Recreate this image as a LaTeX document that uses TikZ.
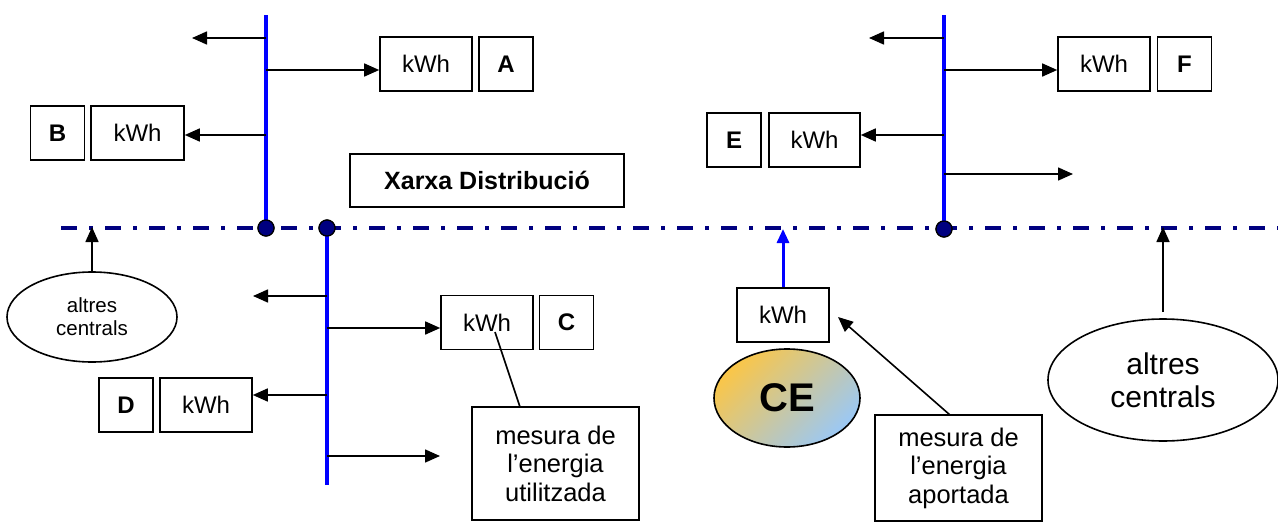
\documentclass[tikz,border=0pt]{standalone}
\usepackage{fontspec}
\setmainfont{Liberation Sans}
\usetikzlibrary{arrows.meta,shapes.geometric}
\definecolor{navyline}{RGB}{0,0,128}
\definecolor{busblue}{RGB}{0,0,255}
\definecolor{ceorange}{RGB}{250,198,72}
\definecolor{ceblue}{RGB}{155,200,245}
\begin{document}
\begin{tikzpicture}[x=1pt,y=-1pt,
  box/.style={draw=black, line width=1.6pt, minimum width=#1, minimum height=54pt,
    inner sep=0pt, font=\fontsize{24}{27}\selectfont},
  box/.default=92pt,
  letterbox/.style={draw=black, line width=1.6pt, minimum width=54pt, minimum height=54pt,
    inner sep=0pt, font=\fontsize{24}{27}\selectfont\bfseries},
  notebox/.style={draw=black, line width=1.6pt, minimum width=167pt, inner sep=0pt,
    align=center, font=\fontsize{25.5}{28.5}\selectfont},
  oval/.style={draw=black, line width=1.6pt, ellipse, inner sep=0pt, align=center},
  arr/.style={-{Triangle[length=15pt,width=13pt]}, line width=1.6pt, black},
  bus/.style={busblue, line width=3.5pt},
  grid/.style={navyline, line width=4.5pt, dash pattern=on 16pt off 12pt on 4pt off 12pt},
  junction/.style={circle, fill=navyline, draw=black, line width=1.2pt, minimum size=16pt, inner sep=0pt}
]
\useasboundingbox (0,0) rectangle (1278,522);

% main distribution line
\coordinate (gl) at (61,228);
\coordinate (gr) at (1280,228);
\draw[grid] (gl) -- (gr);

% buses
\coordinate (b1t) at (266,15);
\coordinate (b2b) at (327,485);
\coordinate (b3t) at (944,15);
\node[junction] (j1) at (266,228) {};
\node[junction] (j2) at (327,228) {};
\node[junction] (j3) at (944,229) {};
\draw[bus] (b1t) -- (j1.center);
\draw[bus] (j2.center) -- (b2b);
\draw[bus] (b3t) -- (j3.center);
\node[junction] at (j1) {};
\node[junction] at (j2) {};
\node[junction] at (j3) {};

% boxes
\node[box] (kwhA) at (426,64) {kWh};
\node[letterbox] (boxA) at (506,64) {A};
\node[letterbox] (boxB) at (57.5,133) {B};
\node[box=93pt] (kwhB) at (137.5,133) {kWh};
\node[draw=black, line width=1.6pt, minimum width=274pt, minimum height=53pt, inner sep=0pt,
  font=\fontsize{25}{28}\selectfont\bfseries] (xarxa) at (487,180.5) {Xarxa Distribució};
\node[box] (kwhC) at (487,322.5) {kWh};
\node[letterbox] (boxC) at (566.5,322.5) {C};
\node[letterbox] (boxD) at (126,405) {D};
\node[box] (kwhD) at (206,405) {kWh};
\node[notebox, minimum height=113pt] (mesU) at (555.5,463.5) {mesura de\\l’energia\\utilitzada};
\node[box] (kwhF) at (1104,64) {kWh};
\node[letterbox] (boxF) at (1184.5,64) {F};
\node[letterbox] (boxE) at (734,140) {E};
\node[box=91pt] (kwhE) at (814.5,140) {kWh};
\node[box] (kwhCE) at (783,315) {kWh};
\node[notebox, minimum height=106pt] (mesA) at (958.5,468) {mesura de\\l’energia\\aportada};

% ellipses
\node[oval, minimum width=170pt, minimum height=90pt, font=\fontsize{20.5}{23}\selectfont] (altL) at (92,317) {altres\\centrals};
\node[oval, minimum width=230pt, minimum height=122pt, font=\fontsize{30}{33}\selectfont] (altR) at (1163,380) {altres\\centrals};
\path[top color=ceorange, bottom color=ceblue, shading angle=45, draw=black, line width=1.6pt]
  (787,398) ellipse [x radius=73pt, y radius=49pt];
\node[font=\fontsize{40}{42}\selectfont\bfseries] (ce) at (787,398) {CE};

% arrows from bus 1
\coordinate (a1l) at (192,38);
\coordinate (a1s) at (266,38);
\draw[arr] (a1s) -- (a1l);
\coordinate (a2s) at (266,70);
\draw[arr] (a2s) -- (kwhA.west |- a2s);
\coordinate (a3s) at (266,135);
\draw[arr] (a3s) -- (kwhB.east |- a3s);

% arrows from bus 2
\coordinate (c1s) at (327,296);
\coordinate (c1e) at (253,296);
\draw[arr] (c1s) -- (c1e);
\coordinate (c2s) at (327,328);
\draw[arr] (c2s) -- (kwhC.west |- c2s);
\coordinate (c3s) at (327,395);
\draw[arr] (c3s) -- (kwhD.east |- c3s);
\coordinate (c4s) at (327,456);
\coordinate (c4e) at (440,456);
\draw[arr] (c4s) -- (c4e);

% arrows from bus 3
\coordinate (f1s) at (944,38);
\coordinate (f1e) at (869,38);
\draw[arr] (f1s) -- (f1e);
\coordinate (f2s) at (944,70);
\draw[arr] (f2s) -- (kwhF.west |- f2s);
\coordinate (f3s) at (944,135);
\draw[arr] (f3s) -- (kwhE.east |- f3s);
\coordinate (f4s) at (944,174);
\coordinate (f4e) at (1073,174);
\draw[arr] (f4s) -- (f4e);

% feeders into the grid
\coordinate (gL) at (92,227);
\draw[arr] (altL.north) -- (gL);
\coordinate (gR) at (1163,227);
\draw[arr, shorten <=6pt] (altR.north) -- (gR);
\coordinate (gCE) at (783,229);
\draw[busblue, line width=3pt, -{Triangle[length=14pt,width=12pt]}] (kwhCE.north) -- (gCE);

% measurement pointers
\coordinate (mU1) at (495,332);
\coordinate (mU2) at (520,407);
\draw[line width=1.6pt] (mU1) -- (mU2);
\coordinate (mA1) at (950,415);
\coordinate (mA2) at (838,317);
\draw[arr] (mA1) -- (mA2);
\end{tikzpicture}
\end{document}
